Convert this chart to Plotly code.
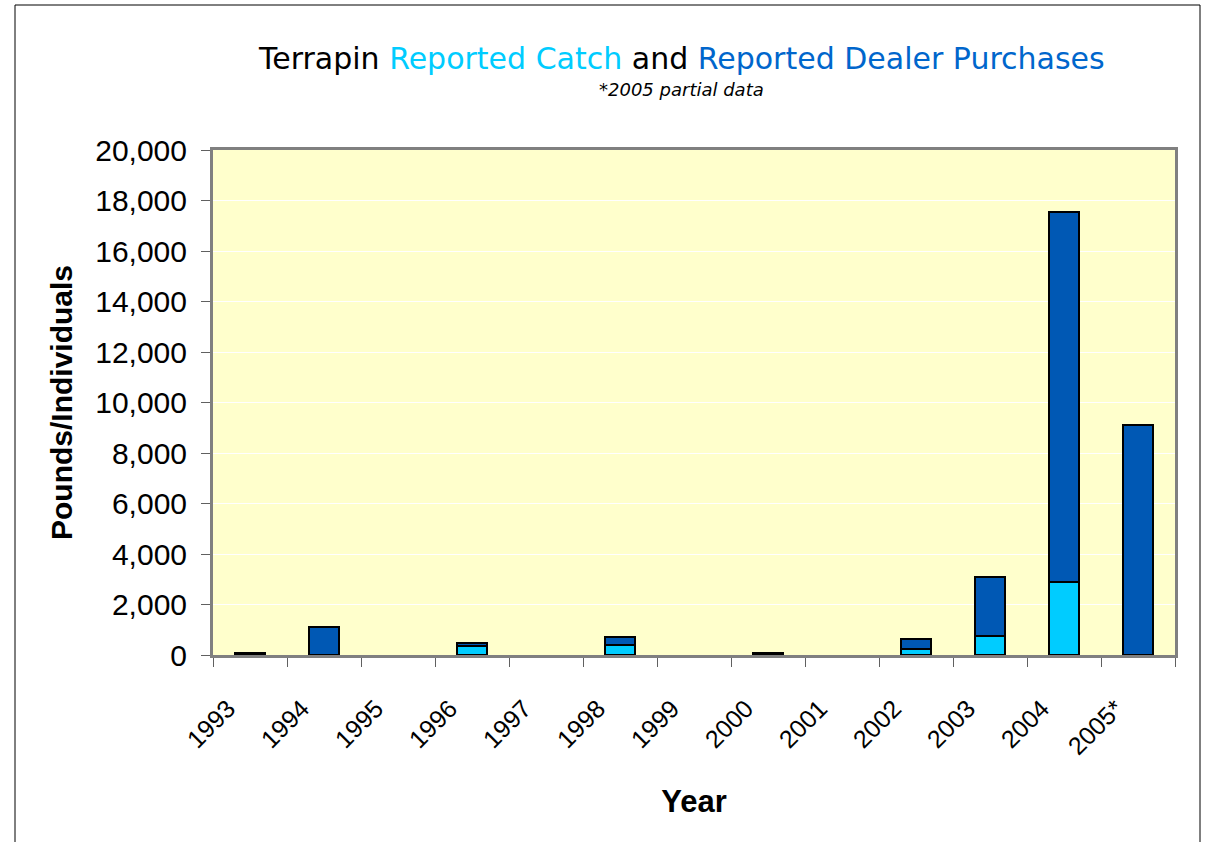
import plotly.graph_objects as go

years = ["1993", "1994", "1995", "1996", "1997", "1998", "1999", "2000",
         "2001", "2002", "2003", "2004", "2005*"]
catch = [None, None, None, 350, None, 400, None, None, None, 220, 750, 2900, None]
dealer = [80, 1100, None, 130, None, 320, None, 80, None, 430, 2350, 14650, 9100]

W, H = 1207, 842
L, R, T, B = 213, 1175, 150, 655
pw, ph = R - L, B - T

def px(x):
    return (x - L) / pw

def py(y):
    return (B - y) / ph

fig = go.Figure()
fig.add_trace(go.Bar(x=years, y=catch, name="Reported Catch",
                     marker=dict(color="#00CCFF", line=dict(color="black", width=2))))
fig.add_trace(go.Bar(x=years, y=dealer, name="Reported Dealer Purchases",
                     marker=dict(color="#0058B4", line=dict(color="black", width=2))))

fig.update_layout(
    width=W, height=H,
    margin=dict(l=L, r=W - R, t=T, b=H - B),
    barmode="stack", bargap=0.6,
    showlegend=False,
    paper_bgcolor="white", plot_bgcolor="#FFFFCC",
    font=dict(family="Liberation Sans, Arial", color="black"),
)
fig.update_xaxes(
    type="category", tickangle=-45, tickson="boundaries",
    ticks="outside", ticklen=9, tickcolor="#606060", tickwidth=1,
    showline=True, linecolor="#808080", linewidth=3, mirror=True,
    tickfont=dict(size=25, family="Liberation Sans, Arial"),
    ticklabelstandoff=26, ticklabelshift=-22,
    title=dict(text="<b>Year</b>", font=dict(size=31), standoff=32),
    showgrid=False,
)
fig.update_yaxes(
    range=[0, 20000], dtick=2000, tickformat=",",
    ticks="outside", ticklen=9, tickcolor="#606060", tickwidth=1,
    showline=True, linecolor="#808080", linewidth=3, mirror=True,
    showgrid=True, gridcolor="#FFFFFF", gridwidth=1,
    tickfont=dict(size=30, family="Liberation Sans, Arial"),
    ticklabelstandoff=8,
    title=dict(text="<b>Pounds/Individuals</b>", font=dict(size=30), standoff=14),
    zeroline=False,
)

title_text = ("Terrapin <span style='color:#00CCFF'>Reported Catch</span> and "
              "<span style='color:#0066CC'>Reported Dealer Purchases</span>")
fig.add_annotation(x=px(681), y=py(58), xref="paper", yref="paper",
                   text=title_text, showarrow=False, xanchor="center", yanchor="middle",
                   font=dict(size=30, family="DejaVu Sans", color="black"))
fig.add_annotation(x=px(681), y=py(90), xref="paper", yref="paper",
                   text="<i>*2005 partial data</i>", showarrow=False,
                   xanchor="center", yanchor="middle",
                   font=dict(size=18, family="DejaVu Sans", color="black"))

fig.add_shape(type="rect", xref="paper", yref="paper",
              x0=px(15), x1=px(1200), y0=py(870), y1=py(5),
              line=dict(color="black", width=1), fillcolor="rgba(0,0,0,0)", layer="below")

fig.write_html("out.html",
               config={"displayModeBar": False},
               post_script="document.body.style.margin='0';"
                           "document.body.style.overflow='hidden';")
